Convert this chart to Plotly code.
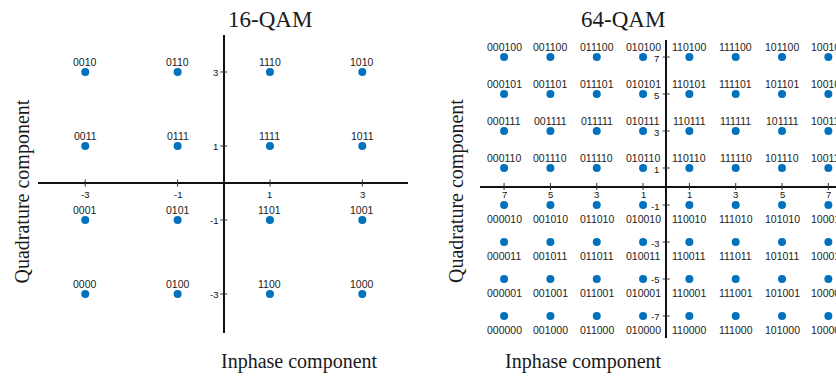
import plotly.graph_objects as go

# ---------------- data ----------------
qam16_levels = [-3, -1, 1, 3]
qam16_I_bits = ["00", "01", "11", "10"]          # per I level (-3,-1,1,3)
qam16_Q_levels = [3, 1, -1, -3]
qam16_Q_bits = ["10", "11", "01", "00"]          # per Q level (3,1,-1,-3)
qam16_xtick_labels = ["-3", "-1", "1", "3"]
qam16_ytick_labels = ["3", "1", "-1", "-3"]

qam64_levels = [-7, -5, -3, -1, 1, 3, 5, 7]
qam64_I_bits = ["000", "001", "011", "010", "110", "111", "101", "100"]
qam64_Q_levels = [7, 5, 3, 1, -1, -3, -5, -7]
qam64_Q_bits = ["100", "101", "111", "110", "010", "011", "001", "000"]
qam64_xtick_labels = ["7", "5", "3", "1", "1", "3", "5", "7"]
qam64_ytick_labels = ["7", "5", "3", "1", "-1", "-3", "-5", "-7"]

titles = ["16-QAM", "64-QAM"]
xlabel = "Inphase component"
ylabel = "Quadrature component"

# ---------------- layout helpers ----------------
W, H = 836, 377


def fx(px):
    return px / W


def fy(py):
    return 1 - py / H


BLUE = "#0072BD"
SERIF = "Liberation Serif, Times New Roman, serif"
SANS = "Liberation Sans, Arial, sans-serif"
LBL = dict(family=SANS, size=10.5, color="#222222")
TICK = dict(family=SANS, size=9.5, color="#111111")

fig = go.Figure()
annotations = []

# 16-QAM points and labels (all labels above)
x16, y16 = [], []
for qi, q in enumerate(qam16_Q_levels):
    for i, lv in enumerate(qam16_levels):
        x16.append(lv); y16.append(q)
        annotations.append(dict(x=lv, y=q, xref="x", yref="y",
                                text=qam16_I_bits[i] + qam16_Q_bits[qi],
                                showarrow=False, yanchor="middle", yshift=10, font=LBL))
fig.add_trace(go.Scatter(x=x16, y=y16, mode="markers",
                         marker=dict(color=BLUE, size=8),
                         cliponaxis=False, xaxis="x", yaxis="y",
                         showlegend=False, hoverinfo="skip"))

# 64-QAM points: labels above for upper half, below for lower half
x64, y64 = [], []
for qi, q in enumerate(qam64_Q_levels):
    for i, lv in enumerate(qam64_levels):
        x64.append(lv); y64.append(q)
        annotations.append(dict(x=lv, y=q, xref="x2", yref="y2",
                                text=qam64_I_bits[i] + qam64_Q_bits[qi],
                                showarrow=False, yanchor="middle",
                                yshift=10 if q > 0 else -14, font=LBL))
fig.add_trace(go.Scatter(x=x64, y=y64, mode="markers",
                         marker=dict(color=BLUE, size=8),
                         cliponaxis=False, xaxis="x2", yaxis="y2",
                         showlegend=False, hoverinfo="skip"))

# tick marks on the origin axes
for xa, ya, xv, yv in [("x", "y", qam16_levels, qam16_Q_levels),
                       ("x2", "y2", qam64_levels, qam64_Q_levels)]:
    fig.add_trace(go.Scatter(x=xv, y=[0] * len(xv), mode="markers",
                             marker=dict(symbol="line-ns-open", size=5, color="#333333",
                                         line=dict(color="#333333", width=1)),
                             xaxis=xa, yaxis=ya, showlegend=False,
                             hoverinfo="skip", cliponaxis=False))
    fig.add_trace(go.Scatter(x=[0] * len(yv), y=yv, mode="markers",
                             marker=dict(symbol="line-ew-open", size=5, color="#333333",
                                         line=dict(color="#333333", width=1)),
                             xaxis=xa, yaxis=ya, showlegend=False,
                             hoverinfo="skip", cliponaxis=False))

# tick labels
for xv, tl in zip(qam16_levels, qam16_xtick_labels):
    annotations.append(dict(x=xv, y=0, xref="x", yref="y", text=tl, showarrow=False,
                            yanchor="middle", yshift=-11, font=TICK))
for yv, tl in zip(qam16_Q_levels, qam16_ytick_labels):
    annotations.append(dict(x=0, y=yv, xref="x", yref="y", text=tl, showarrow=False,
                            xanchor="right", xshift=-4, font=TICK))
for xv, tl in zip(qam64_levels, qam64_xtick_labels):
    annotations.append(dict(x=xv, y=0, xref="x2", yref="y2", text=tl, showarrow=False,
                            yanchor="middle", yshift=-8, font=TICK))
for yv, tl in zip(qam64_Q_levels, qam64_ytick_labels):
    annotations.append(dict(x=0, y=yv, xref="x2", yref="y2", text=tl, showarrow=False,
                            xanchor="right", xshift=-5, yshift=-1, font=TICK))

# titles and axis labels
TFONT = dict(family=SERIF, size=23, color="#1a1a1a")
AFONT = dict(family=SERIF, size=20, color="#1a1a1a")
annotations += [
    dict(x=fx(226), y=fy(19), xref="paper", yref="paper", text=titles[0],
         showarrow=False, font=TFONT, yanchor="middle"),
    dict(x=fx(667), y=fy(20), xref="paper", yref="paper", text=titles[1],
         showarrow=False, font=TFONT, yanchor="middle"),
    dict(x=fx(219), y=fy(361), xref="paper", yref="paper", text=xlabel,
         showarrow=False, font=AFONT, yanchor="middle"),
    dict(x=fx(664), y=fy(361), xref="paper", yref="paper", text=xlabel,
         showarrow=False, font=AFONT, yanchor="middle"),
    dict(x=fx(21.5), y=fy(192), xref="paper", yref="paper", text=ylabel,
         showarrow=False, font=AFONT, textangle=-90, xanchor="center", yanchor="middle"),
    dict(x=fx(457), y=fy(191), xref="paper", yref="paper", text=ylabel,
         showarrow=False, font=AFONT, textangle=-90, xanchor="center", yanchor="middle"),
]

ax_common = dict(showgrid=False, showline=False, showticklabels=False, ticks="",
                 zeroline=True, zerolinecolor="#111111", zerolinewidth=2,
                 fixedrange=True)

fig.update_layout(
    width=W, height=H,
    margin=dict(l=0, r=0, t=0, b=0),
    paper_bgcolor="white", plot_bgcolor="white",
    xaxis=dict(domain=[fx(37.7), fx(408)], range=[-4.03, 3.99], **ax_common),
    yaxis=dict(domain=[fy(332.7), fy(35)], range=[-4.046, 4.0], **ax_common),
    xaxis2=dict(domain=[fx(480), 1.0], range=[-8.04, 7.33], anchor="y2", **ax_common),
    yaxis2=dict(domain=[fy(338), fy(40)], range=[-8.19, 7.92], anchor="x2", **ax_common),
    annotations=annotations,
)

# remove the default 8px page margin so the figure fills the window exactly
fig.write_html("out.html", config={"displayModeBar": False},
               post_script="document.body.style.margin='0';")
